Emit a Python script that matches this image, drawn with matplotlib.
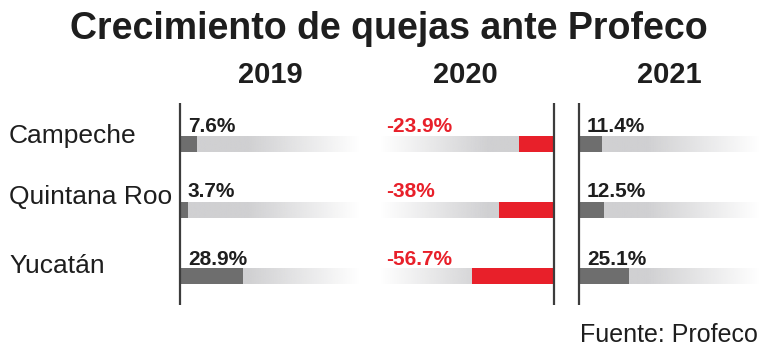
import numpy as np
import matplotlib.pyplot as plt
from matplotlib.colors import to_rgb

plt.rcParams['font.family'] = ['Liberation Sans', 'DejaVu Sans']

# DATA
states = ["Campeche", "Quintana Roo", "Yucatán"]
years = ["2019", "2020", "2021"]
growth_2019 = [7.6, 3.7, 28.9]
growth_2020 = [-23.9, -38.0, -56.7]
growth_2021 = [11.4, 12.5, 25.1]
labels_2019 = ["7.6%", "3.7%", "28.9%"]
labels_2020 = ["-23.9%", "-38%", "-56.7%"]
labels_2021 = ["11.4%", "12.5%", "25.1%"]

W, H = 768, 355
fig = plt.figure(figsize=(W / 100, H / 100), dpi=100)

DARK = "#6e6e6e"
RED = "#e8202a"
TXT = "#1e1e1e"
LINE = "#3c3c3c"


def px(x, y):
    return x / W, 1 - y / H


def add_panel(x0, x1, xlim, values, labels, color, txtcolor, side):
    # axes spans pixel y 103..305
    ax = fig.add_axes([x0 / W, 1 - 305 / H, (x1 - x0) / W, 202 / H])
    ax.set_xlim(*xlim)
    ax.set_ylim(2.44, -0.62)
    ax.axis("off")
    bh = 0.23
    n = 256
    grad = np.linspace(1, 0, n) if side == "left" else np.linspace(0, 1, n)
    grad = np.clip(grad * 1.6, 0, 1)
    rgba = np.zeros((1, n, 4))
    rgba[..., :3] = to_rgb("#d0d0d2")
    rgba[..., 3] = grad
    for i, (v, lab) in enumerate(zip(values, labels)):
        ax.imshow(rgba, extent=(xlim[0], xlim[1], i + bh / 2, i - bh / 2),
                  aspect="auto", interpolation="bilinear", zorder=1)
        ax.barh(i, v, height=bh, color=color, zorder=2)
    ax.set_xlim(*xlim)
    ax.set_ylim(2.44, -0.62)
    xs = xlim[0] if side == "left" else xlim[1]
    ax.plot([xs, xs], [2.44, -0.62], color=LINE, lw=1.6, zorder=3,
            clip_on=False, solid_capstyle="butt")
    return ax


add_panel(180, 360, (0, 82), growth_2019, labels_2019, DARK, TXT, "left")
add_panel(380, 554, (-120, 0), growth_2020, labels_2020, RED, RED, "right")
add_panel(579, 760, (0, 90), growth_2021, labels_2021, DARK, TXT, "left")

# value labels
label_x = [188, 386, 587]
label_y = [132, 197, 265]
for lx, labs, c in zip(label_x, [labels_2019, labels_2020, labels_2021],
                       [TXT, RED, TXT]):
    for ly, lab in zip(label_y, labs):
        fig.text(*px(lx, ly), lab, fontsize=15, fontweight="bold",
                 color=c, va="baseline", ha="left")

# state names
for ly, s in zip([143, 204, 273], states):
    fig.text(*px(9, ly), s, fontsize=19, color=TXT, va="baseline", ha="left")

# year headers
for cx, yr in zip([270, 465, 669], years):
    fig.text(*px(cx, 83), yr, fontsize=21, fontweight="bold", color=TXT,
             va="baseline", ha="center")

fig.text(*px(389, 39), "Crecimiento de quejas ante Profeco", fontsize=27,
         fontweight="bold", color=TXT, va="baseline", ha="center")
fig.text(*px(758, 342), "Fuente: Profeco", fontsize=18, color=TXT,
         va="baseline", ha="right")

fig.savefig("out.png", dpi=100)
